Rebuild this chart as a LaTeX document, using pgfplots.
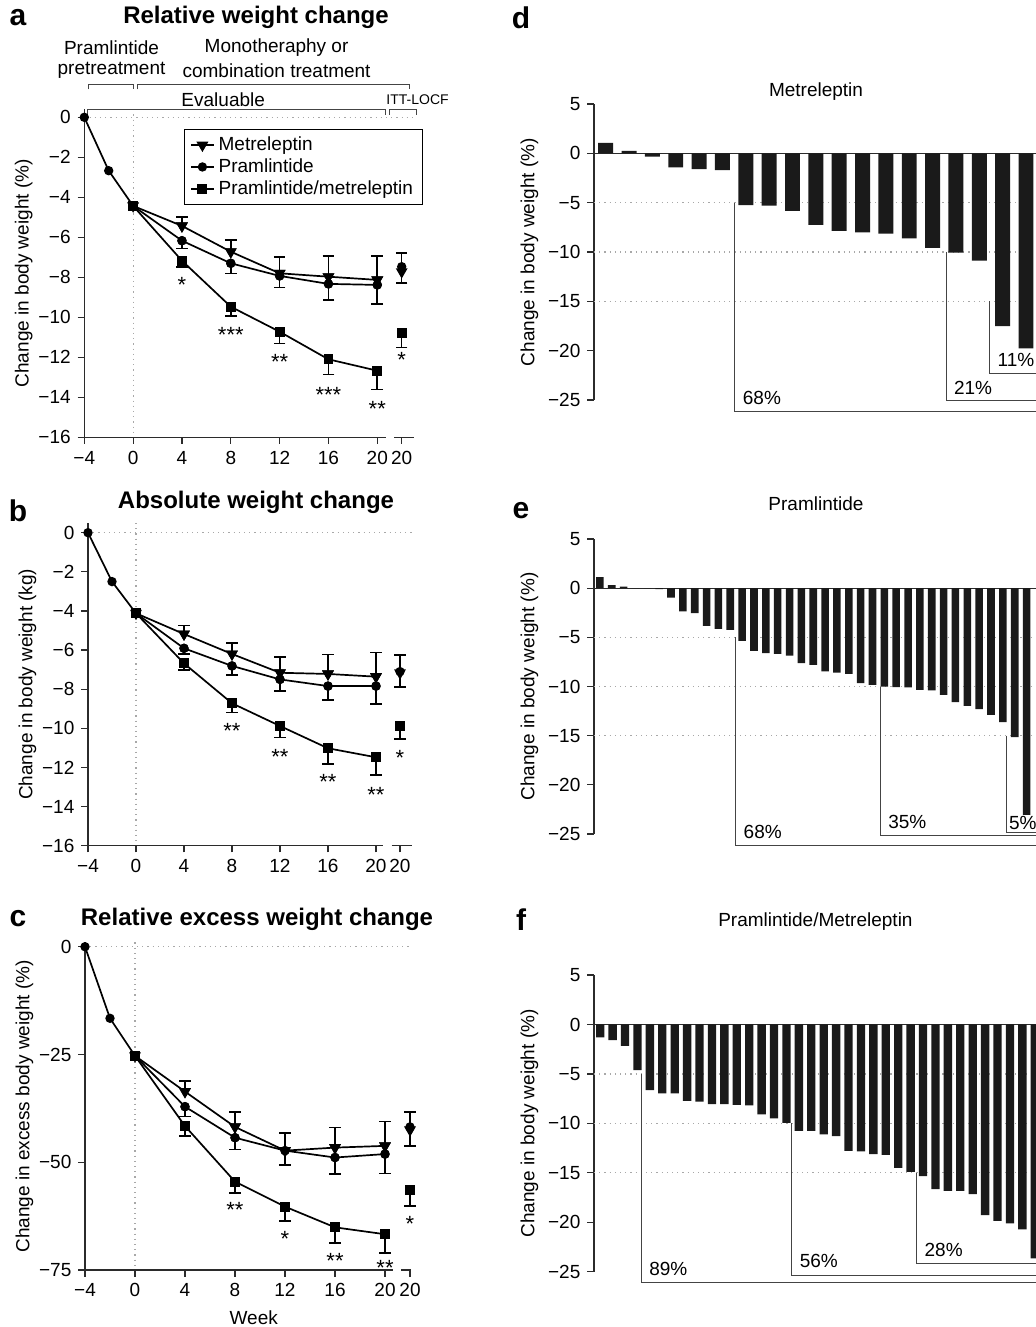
\documentclass[border=0pt]{standalone}
\usepackage{pgfplots}
\pgfplotsset{compat=1.18}
\usepackage{fontspec}
\setmainfont{Liberation Sans}
\definecolor{axc}{HTML}{2B2B2B}
\definecolor{barc}{HTML}{1A1A1A}
\definecolor{gridc}{HTML}{A8A8A8}
\definecolor{brkc}{HTML}{444444}
\newcommand{\tf}{\fontsize{9.5}{11}\selectfont}
\newcommand{\ttl}{\fontsize{12}{14}\selectfont\bfseries}
\newcommand{\lett}{\fontsize{15}{17}\selectfont\bfseries}
\pgfplotsset{
  lineax/.style={scale only axis, clip=false, axis x line*=bottom, axis y line*=left,
    x axis line style={draw=none}, y axis line style={axc, line width=0.6pt},
    tick style={axc, line width=0.6pt}, tick align=outside, major tick length=3.3pt,
    ticklabel style={font=\tf}, label style={font=\tf}, ylabel shift=-4pt,
    xmin=-4, xmax=23, xtick={-4,0,4,8,12,16,20,22},
    xticklabels={−4,0,4,8,12,16,20,20}},
  barax/.style={scale only axis, clip=false, axis x line*=middle, axis y line*=left,
    axis line style={axc, line width=0.6pt}, tick style={axc, line width=0.6pt},
    tick align=outside, major tick length=3.3pt, xtick=\empty,
    ticklabel style={font=\tf}, label style={font=\tf}, ylabel shift=-2pt,
    ymin=-25, ymax=5, ytick={-25,-20,-15,-10,-5,0,5},
    yticklabels={−25,−20,−15,−10,−5,0,5}, xmin=0.5,
    ylabel={Change in body weight (\%)}},
  metr/.style={black, line width=0.85pt, mark=triangle*, mark size=2.6pt, mark options={rotate=180, solid}},
  pram/.style={black, line width=0.85pt, mark=*, mark size=1.9pt},
  comb/.style={black, line width=0.85pt, mark=square*, mark size=2.05pt},
  eb/.style={only marks, forget plot, error bars/.cd, y explicit, y dir=#1,
    error bar style={black, line width=0.8pt},
    error mark options={black, rotate=90, mark size=2.9pt, line width=0.8pt}},
  bars/.style={ybar, bar width=#1, fill=barc, draw=none},
}
\tikzset{
  star/.style={font=\fontsize{11}{11}\selectfont, inner sep=0pt, yshift=-2pt},
  brk/.style={brkc, line width=0.5pt},
  grd/.style={gridc, dotted, line width=0.6pt},
  pct/.style={font=\tf, anchor=west, inner sep=0pt},
}
\begin{document}
\begin{tikzpicture}
\useasboundingbox (0,0) rectangle (518pt,-663.5pt);
\clip (0,0) rectangle (518pt,-663.5pt);

% ---------------- panel a
\begin{axis}[lineax, at={(42.15pt,-218.65pt)}, anchor=south west, width=164.8pt, height=164pt,
  ymin=-16, ymax=0.4, ytick={-16,-14,...,0}, yticklabels={−16,−14,−12,−10,−8,−6,−4,−2,0},
  ylabel={Change in body weight (\%)},
  legend style={at={(1.029,0.939)}, anchor=north east, draw=black, line width=0.5pt, font=\tf,
    inner xsep=3pt, inner ysep=1.5pt, row sep=-1.5pt, fill=white},
  legend cell align=left,
  legend image code/.code={\draw[mark repeat=2,mark phase=2,#1] plot coordinates {(0cm,0cm) (0.2cm,0cm) (0.4cm,0cm)};}]
\draw[grd] (axis cs:-4,0) -- (axis cs:23.1,0);
\draw[grd] (axis cs:0,0.4) -- (axis cs:0,-16);
\draw[axc, line width=0.6pt] (axis cs:-4,-16) -- (axis cs:20.7,-16) (axis cs:21.4,-16) -- (axis cs:23,-16);
\addplot[pram, forget plot] coordinates {(-4,0) (-2,-2.67) (0,-4.43)};
\addplot[metr] coordinates {(0,-4.43) (4,-5.43) (8,-6.72) (12,-7.8) (16,-7.97) (20,-8.13)};
\addlegendentry{Metreleptin}
\addplot[pram] coordinates {(0,-4.43) (4,-6.17) (8,-7.3) (12,-7.93) (16,-8.33) (20,-8.38)};
\addlegendentry{Pramlintide}
\addplot[comb] coordinates {(0,-4.43) (4,-7.17) (8,-9.47) (12,-10.72) (16,-12.1) (20,-12.67)};
\addlegendentry{Pramlintide/metreleptin}
\addplot[metr, eb=plus] coordinates {(4,-5.43) +- (0,0.45) (8,-6.72) +- (0,0.6) (12,-7.8) +- (0,0.83) (16,-7.97) +- (0,1.03) (20,-8.13) +- (0,1.2) (22,-7.72) +- (0,0.95)};
\addplot[pram, eb=minus] coordinates {(4,-6.17) +- (0,0.38) (8,-7.3) +- (0,0.5) (12,-7.93) +- (0,0.57) (16,-8.33) +- (0,0.8) (20,-8.38) +- (0,0.95) (22,-7.47) +- (0,0.8)};
\addplot[comb, eb=minus] coordinates {(4,-7.17) +- (0,0.3) (8,-9.47) +- (0,0.45) (12,-10.72) +- (0,0.58) (16,-12.1) +- (0,0.75) (20,-12.67) +- (0,0.93) (22,-10.77) +- (0,0.73)};
\node[star] at (axis cs:4,-8.2) {*};
\node[star] at (axis cs:8,-10.7) {***};
\node[star] at (axis cs:12,-12.05) {**};
\node[star] at (axis cs:16,-13.67) {***};
\node[star] at (axis cs:20,-14.4) {**};
\node[star] at (axis cs:22,-11.93) {*};
% header brackets
\draw[brk] (axis cs:-3.69,1.4) -- (axis cs:-3.69,1.615) -- (axis cs:0,1.615) -- (axis cs:0,1.4);
\draw[brk] (axis cs:0.36,1.4) -- (axis cs:0.36,1.615) -- (axis cs:22.6,1.615) -- (axis cs:22.6,1.4);
\draw[brk] (axis cs:-3.77,0.12) -- (axis cs:-3.77,0.4) -- (axis cs:20.7,0.4) -- (axis cs:20.7,0.12);
\draw[brk] (axis cs:21.0,0.12) -- (axis cs:21.0,0.4) -- (axis cs:23.2,0.4) -- (axis cs:23.2,0.12);
\node[font=\tf] at (axis cs:-1.77,3.48) {Pramlintide};
\node[font=\tf] at (axis cs:-1.77,2.33) {pretreatment};
\node[font=\tf] at (axis cs:11.75,3.48) {Monotheraphy or};
\node[font=\tf] at (axis cs:11.75,2.33) {combination treatment};
\node[font=\tf] at (axis cs:7.38,0.9) {Evaluable};
\node[font=\fontsize{7}{8}\selectfont] at (axis cs:23.3,0.9) {ITT-LOCF};
\end{axis}

% ---------------- panel b
\begin{axis}[lineax, at={(44pt,-422.85pt)}, anchor=south west, width=162pt, height=161.4pt,
  ymin=-16, ymax=0.5, ytick={-16,-14,...,0}, yticklabels={−16,−14,−12,−10,−8,−6,−4,−2,0},
  ylabel={Change in body weight (kg)}]
\draw[grd] (axis cs:-4,0) -- (axis cs:23,0);
\draw[grd] (axis cs:0,0.5) -- (axis cs:0,-16);
\draw[axc, line width=0.6pt] (axis cs:-4,-16) -- (axis cs:20.6,-16) (axis cs:21.3,-16) -- (axis cs:23,-16);
\addplot[pram] coordinates {(-4,0) (-2,-2.5) (0,-4.12)};
\addplot[metr] coordinates {(0,-4.12) (4,-5.18) (8,-6.2) (12,-7.16) (16,-7.22) (20,-7.36)};
\addplot[pram] coordinates {(0,-4.12) (4,-5.91) (8,-6.81) (12,-7.5) (16,-7.84) (20,-7.84)};
\addplot[comb] coordinates {(0,-4.12) (4,-6.68) (8,-8.72) (12,-9.88) (16,-11.02) (20,-11.48)};
\addplot[pram, eb=minus] coordinates {(4,-5.91) +- (0,0.3) (8,-6.81) +- (0,0.46) (12,-7.5) +- (0,0.58) (16,-7.84) +- (0,0.72) (20,-7.84) +- (0,0.92) (22,-7.1) +- (0,0.8)};
\addplot[metr, eb=plus] coordinates {(4,-5.18) +- (0,0.43) (8,-6.2) +- (0,0.55) (12,-7.16) +- (0,0.8) (16,-7.22) +- (0,1.0) (20,-7.36) +- (0,1.23) (22,-7.16) +- (0,0.9)};
\addplot[comb, eb=minus] coordinates {(4,-6.68) +- (0,0.34) (8,-8.72) +- (0,0.48) (12,-9.88) +- (0,0.58) (16,-11.02) +- (0,0.8) (20,-11.48) +- (0,0.9) (22,-9.86) +- (0,0.7)};
\node[star] at (axis cs:8,-9.95) {**};
\node[star] at (axis cs:12,-11.28) {**};
\node[star] at (axis cs:16,-12.52) {**};
\node[star] at (axis cs:20,-13.2) {**};
\node[star] at (axis cs:22,-11.3) {*};
\end{axis}

% ---------------- panel c
\begin{axis}[lineax, at={(42.5pt,-635pt)}, anchor=south west, width=168.75pt, height=163.8pt,
  ymin=-75, ymax=1, ytick={-75,-50,-25,0}, yticklabels={−75,−50,−25,0},
  ylabel={Change in excess body weight (\%)}, xlabel={Week}]
\draw[grd] (axis cs:-4,0) -- (axis cs:22.1,0);
\draw[grd] (axis cs:0,1) -- (axis cs:0,-75);
\draw[axc, line width=0.6pt] (axis cs:-4,-75) -- (axis cs:20.6,-75) (axis cs:21.3,-75) -- (axis cs:22.1,-75);
\addplot[pram] coordinates {(-4,0) (-2,-16.6) (0,-25.3)};
\addplot[metr] coordinates {(0,-25.3) (4,-33.6) (8,-41.8) (12,-47.3) (16,-46.6) (20,-46.2)};
\addplot[pram] coordinates {(0,-25.3) (4,-37.1) (8,-44.3) (12,-47.3) (16,-48.9) (20,-48.1)};
\addplot[comb] coordinates {(0,-25.3) (4,-41.6) (8,-54.5) (12,-60.3) (16,-65.1) (20,-66.7)};
\addplot[pram, eb=minus] coordinates {(4,-37.1) +- (0,2.3) (8,-44.3) +- (0,2.7) (12,-47.3) +- (0,3.4) (16,-48.9) +- (0,3.8) (20,-48.1) +- (0,4.5) (22,-41.8) +- (0,4.4)};
\addplot[metr, eb=plus] coordinates {(4,-33.6) +- (0,2.5) (8,-41.8) +- (0,3.4) (12,-47.3) +- (0,4.1) (16,-46.6) +- (0,4.7) (20,-46.2) +- (0,5.7) (22,-42.5) +- (0,4.2)};
\addplot[comb, eb=minus] coordinates {(4,-41.6) +- (0,2.3) (8,-54.5) +- (0,2.7) (12,-60.3) +- (0,3.3) (16,-65.1) +- (0,3.6) (20,-66.7) +- (0,4.3) (22,-56.5) +- (0,3.7)};
\node[star] at (axis cs:8,-60.2) {**};
\node[star] at (axis cs:12,-66.9) {*};
\node[star] at (axis cs:16,-71.9) {**};
\node[star] at (axis cs:20,-73.5) {**};
\node[star] at (axis cs:22,-63.3) {*};
\end{axis}

% ---------------- panel d
\begin{axis}[barax, at={(297pt,-200pt)}, anchor=south west, width=221.25pt, height=148pt, xmax=19.45]
\draw[grd] (axis cs:0.5,-5) -- (axis cs:19.45,-5) (axis cs:0.5,-10) -- (axis cs:19.45,-10) (axis cs:0.5,-15) -- (axis cs:19.45,-15);
\addplot[bars=0.64] coordinates {(1,1.07) (2,0.24) (3,-0.34) (4,-1.42) (5,-1.59) (6,-1.69) (7,-5.24) (8,-5.30) (9,-5.84) (10,-7.26) (11,-7.87) (12,-8.00) (13,-8.14) (14,-8.61) (15,-9.59) (16,-10.07) (17,-10.88) (18,-17.5) (19,-19.77)};
\draw[brk] (axis cs:6.51,-5) -- (axis cs:6.51,-26.2) -- (axis cs:19.45,-26.2);
\draw[brk] (axis cs:15.6,-10) -- (axis cs:15.6,-25.1) -- (axis cs:19.45,-25.1);
\draw[brk] (axis cs:17.43,-15) -- (axis cs:17.43,-22.3) -- (axis cs:19.45,-22.3);
\node[pct] at (axis cs:6.86,-24.8) {68\%};
\node[pct] at (axis cs:15.9,-23.8) {21\%};
\node[pct] at (axis cs:17.77,-20.9) {11\%};
\end{axis}

% ---------------- panel e
\begin{axis}[barax, at={(297pt,-417pt)}, anchor=south west, width=221.25pt, height=147.5pt, xmax=37.84]
\draw[grd] (axis cs:0.5,-5) -- (axis cs:37.84,-5) (axis cs:0.5,-10) -- (axis cs:37.84,-10) (axis cs:0.5,-15) -- (axis cs:37.84,-15);
\addplot[bars=0.64] coordinates {(1,1.12) (2,0.30) (3,0.17) (4,0) (5,0) (6,-0.1) (7,-0.95) (8,-2.37) (9,-2.54) (10,-3.83) (11,-4.14) (12,-4.24) (13,-5.36) (14,-6.37) (15,-6.61) (16,-6.68) (17,-6.85) (18,-7.63) (19,-7.80) (20,-8.47) (21,-8.58) (22,-8.71) (23,-9.66) (24,-9.83) (25,-10.0) (26,-10.07) (27,-10.1) (28,-10.34) (29,-10.4) (30,-10.85) (31,-11.59) (32,-11.97) (33,-12.30) (34,-12.88) (35,-13.63) (36,-15.15) (37,-23.05)};
\draw[brk] (axis cs:12.4,-5) -- (axis cs:12.4,-26.2) -- (axis cs:37.84,-26.2);
\draw[brk] (axis cs:24.64,-10) -- (axis cs:24.64,-25.2) -- (axis cs:37.84,-25.2);
\draw[brk] (axis cs:35.3,-15) -- (axis cs:35.3,-24.8) -- (axis cs:37.84,-24.8);
\node[pct] at (axis cs:13.1,-24.76) {68\%};
\node[pct] at (axis cs:25.3,-23.74) {35\%};
\node[pct] at (axis cs:35.5,-23.84) {5\%};
\end{axis}

% ---------------- panel f
\begin{axis}[barax, at={(297pt,-635.85pt)}, anchor=south west, width=221.25pt, height=148.35pt, xmax=36.14]
\draw[grd] (axis cs:0.5,-5) -- (axis cs:36.14,-5) (axis cs:0.5,-10) -- (axis cs:36.14,-10) (axis cs:0.5,-15) -- (axis cs:36.14,-15);
\addplot[bars=0.67] coordinates {(1,-1.31) (2,-1.58) (3,-2.16) (4,-4.62) (5,-6.64) (6,-6.98) (7,-6.98) (8,-7.72) (9,-7.79) (10,-8.06) (11,-8.06) (12,-8.12) (13,-8.19) (14,-9.10) (15,-9.50) (16,-9.94) (17,-10.75) (18,-10.75) (19,-11.12) (20,-11.29) (21,-12.77) (22,-12.84) (23,-13.11) (24,-13.18) (25,-14.49) (26,-14.90) (27,-15.34) (28,-16.65) (29,-16.82) (30,-16.82) (31,-17.16) (32,-19.28) (33,-19.85) (34,-20.12) (35,-20.73) (36,-23.66)};
\draw[brk] (axis cs:4.32,-5) -- (axis cs:4.32,-26.13) -- (axis cs:36.14,-26.13);
\draw[brk] (axis cs:16.44,-10) -- (axis cs:16.44,-25.36) -- (axis cs:36.14,-25.36);
\draw[brk] (axis cs:26.5,-15) -- (axis cs:26.5,-24.17) -- (axis cs:36.14,-24.17);
\node[pct] at (axis cs:4.92,-24.77) {89\%};
\node[pct] at (axis cs:17.04,-23.93) {56\%};
\node[pct] at (axis cs:27.1,-22.82) {28\%};
\end{axis}

% ---------------- titles and panel letters
\node[font=\lett] at (9pt,-9pt) {a};
\node[font=\ttl] at (128pt,-8.5pt) {Relative weight change};
\node[font=\lett] at (9pt,-255.5pt) {b};
\node[font=\ttl] at (128pt,-251.3pt) {Absolute weight change};
\node[font=\lett] at (9pt,-459.5pt) {c};
\node[font=\ttl] at (128.5pt,-459.7pt) {Relative excess weight change};
\node[font=\lett] at (260.5pt,-9pt) {d};
\node[font=\tf] at (408pt,-45.8pt) {Metreleptin};
\node[font=\lett] at (260.5pt,-255.5pt) {e};
\node[font=\tf] at (408pt,-252pt) {Pramlintide};
\node[font=\lett] at (260.5pt,-460pt) {f};
\node[font=\tf] at (407.7pt,-460.8pt) {Pramlintide/Metreleptin};
\end{tikzpicture}
\end{document}
